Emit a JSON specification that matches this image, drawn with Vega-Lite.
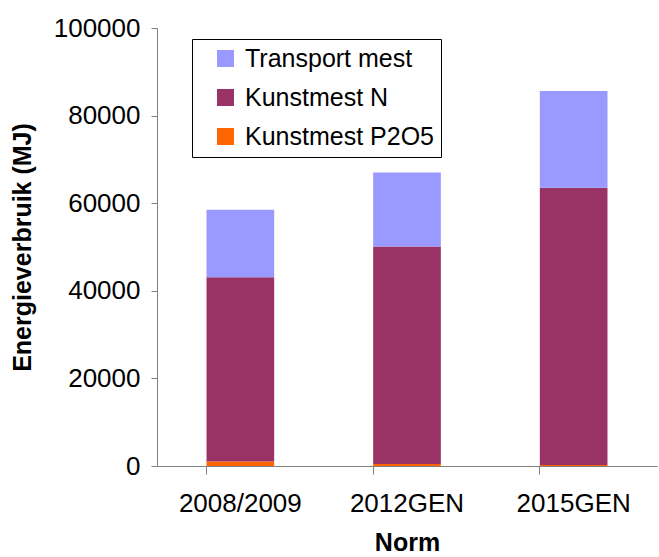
{
  "$schema": "https://vega.github.io/schema/vega-lite/v6.json",
  "autosize": "none",
  "width": 500,
  "height": 438,
  "padding": {"left": 157, "top": 28, "right": 2, "bottom": 91},
  "background": "white",
  "config": {
    "view": {"stroke": null},
    "font": "Liberation Sans"
  },
  "data": {
    "values": [
      {"norm": "2008/2009", "type": "Kunstmest P2O5", "value": 1000, "ord": 1},
      {"norm": "2008/2009", "type": "Kunstmest N", "value": 42100, "ord": 2},
      {"norm": "2008/2009", "type": "Transport mest", "value": 15400, "ord": 3},
      {"norm": "2012GEN", "type": "Kunstmest P2O5", "value": 450, "ord": 1},
      {"norm": "2012GEN", "type": "Kunstmest N", "value": 49650, "ord": 2},
      {"norm": "2012GEN", "type": "Transport mest", "value": 16900, "ord": 3},
      {"norm": "2015GEN", "type": "Kunstmest P2O5", "value": 230, "ord": 1},
      {"norm": "2015GEN", "type": "Kunstmest N", "value": 63320, "ord": 2},
      {"norm": "2015GEN", "type": "Transport mest", "value": 22050, "ord": 3}
    ]
  },
  "mark": {"type": "bar"},
  "encoding": {
    "x": {
      "field": "norm",
      "type": "nominal",
      "sort": null,
      "scale": {"paddingInner": 0.594, "paddingOuter": 0.297},
      "axis": {
        "title": "Norm",
        "titleFont": "Liberation Sans",
        "titleFontSize": 25,
        "titleFontWeight": "bold",
        "titleColor": "black",
        "titlePadding": 14,
        "labelFont": "Liberation Sans",
        "labelFontSize": 26,
        "labelColor": "black",
        "labelAngle": 0,
        "labelPadding": 16,
        "tickSize": 8,
        "tickColor": "#808080",
        "domainColor": "#808080",
        "bandPosition": 0,
        "grid": false
      }
    },
    "y": {
      "field": "value",
      "type": "quantitative",
      "stack": "zero",
      "scale": {"domain": [0, 100000], "nice": false},
      "axis": {
        "title": "Energieverbruik (MJ)",
        "titleFont": "Liberation Sans",
        "titleFontSize": 25,
        "titleFontWeight": "bold",
        "titleColor": "black",
        "titlePadding": 18,
        "labelFont": "Liberation Sans",
        "labelFontSize": 26,
        "labelColor": "black",
        "labelPadding": 11,
        "values": [0, 20000, 40000, 60000, 80000, 100000],
        "format": "d",
        "tickSize": 6,
        "tickColor": "#808080",
        "domainColor": "#808080",
        "grid": false
      }
    },
    "color": {
      "field": "type",
      "type": "nominal",
      "scale": {
        "domain": ["Transport mest", "Kunstmest N", "Kunstmest P2O5"],
        "range": ["#9999FF", "#993366", "#FF6600"]
      },
      "legend": {
        "title": null,
        "orient": "none",
        "legendX": 35,
        "legendY": 11,
        "padding": 7,
        "strokeColor": "black",
        "fillColor": "white",
        "symbolType": "square",
        "symbolSize": 289,
        "symbolStrokeWidth": 0,
        "symbolOpacity": 1,
        "symbolOffset": 14,
        "labelFont": "Liberation Sans",
        "labelFontSize": 25,
        "labelColor": "black",
        "labelOffset": 7,
        "rowPadding": 13,
        "labelLimit": 400
      }
    },
    "order": {"field": "ord", "type": "quantitative"}
  }
}
